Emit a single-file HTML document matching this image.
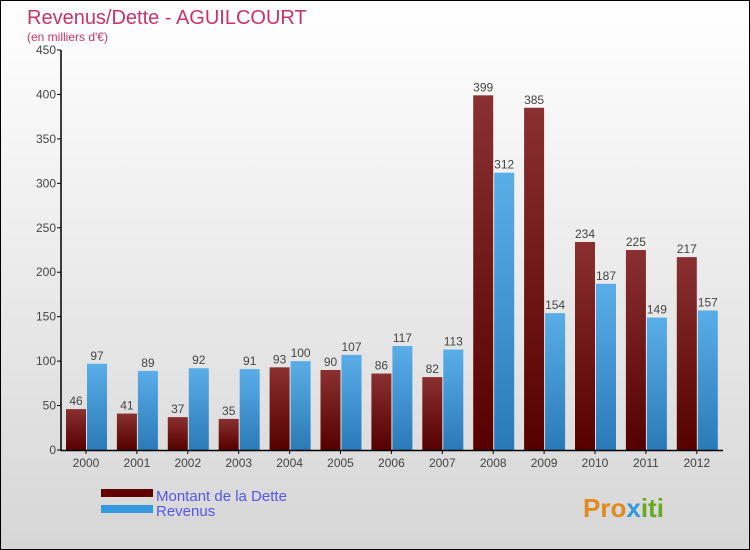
<!DOCTYPE html>
<html><head><meta charset="utf-8"><style>
body{margin:0}
#c{width:748px;height:548px;border:1px solid #000;position:relative;overflow:hidden;background:linear-gradient(#ffffff,#d6d6d6);font-family:"Liberation Sans",sans-serif}
text{font-family:"Liberation Sans",sans-serif}
</style></head><body>
<div id="c">
<svg width="748" height="548" id="s">
<defs>
<linearGradient id="gd" x1="0" y1="0" x2="0" y2="1"><stop offset="0" stop-color="#8a3030"/><stop offset="1" stop-color="#560000"/></linearGradient>
<linearGradient id="gr" x1="0" y1="0" x2="0" y2="1"><stop offset="0" stop-color="#5aaee8"/><stop offset="1" stop-color="#2a7ab8"/></linearGradient>
</defs>
<text x="26" y="23" font-size="20" fill="#c8336a">Revenus/Dette - AGUILCOURT</text>
<text x="26" y="40" font-size="12" fill="#c8336a">(en milliers d'€)</text>
<g id="g"></g>
<rect x="100" y="488" width="52" height="8" fill="#600000"/>
<rect x="100" y="504" width="52" height="8" fill="#3399dd"/>
<text x="155" y="500" font-size="15" fill="#5555ee">Montant de la Dette</text>
<text x="155" y="515" font-size="15" fill="#5555ee">Revenus</text>
<text x="582" y="516" font-size="26" font-weight="bold" fill="#e08a20">Pro<tspan fill="#3399dd">x</tspan><tspan fill="#66aa22">iti</tspan></text>
</svg>
</div>
<script>
const years=["2000","2001","2002","2003","2004","2005","2006","2007","2008","2009","2010","2011","2012"];
const dette=[46,41,37,35,93,90,86,82,399,385,234,225,217];
const revenus=[97,89,92,91,100,107,117,113,312,154,187,149,157];
const ticks=[0,50,100,150,200,250,300,350,400,450];
const NS="http://www.w3.org/2000/svg";
const g=document.getElementById('g');
const y=v=>449-v*400/450;
const x=i=>85+i*50.9;
function mk(t,a){const e=document.createElementNS(NS,t);for(const k in a)e.setAttribute(k,a[k]);g.appendChild(e);return e;}
ticks.forEach(t=>{
 const l=mk('line',{x1:56,x2:60,y1:y(t),y2:y(t),stroke:'#000'});
 
 
 const tx=mk('text',{x:55,y:y(t)+4,'font-size':12,fill:'#444','text-anchor':'end'});tx.textContent=t;
 
 
});
years.forEach((yr,i)=>{
 const b1=mk('rect',{x:x(i)-20,y:y(dette[i]),width:20,height:449-y(dette[i]),fill:'url(#gd)'});
 
 
 const b2=mk('rect',{x:x(i)+1,y:y(revenus[i]),width:20,height:449-y(revenus[i]),fill:'url(#gr)'});
 
 
 const t1=mk('text',{x:x(i)-10,y:y(dette[i])-4,'font-size':12,fill:'#444','text-anchor':'middle'});t1.textContent=dette[i];
 
 
 const t2=mk('text',{x:x(i)+11,y:y(revenus[i])-4,'font-size':12,fill:'#444','text-anchor':'middle'});t2.textContent=revenus[i];
 
 
 const tk=mk('line',{x1:x(i),x2:x(i),y1:449,y2:453,stroke:'#000'});
 
 
 const xl=mk('text',{x:x(i),y:466,'font-size':12,fill:'#444','text-anchor':'middle'});xl.textContent=yr;
 
 
});
const ya=mk('line',{x1:60,x2:60,y1:y(450),y2:450,stroke:'#000','stroke-width':1.5});


const xa=mk('line',{x1:60,x2:722,y1:449.5,y2:449.5,stroke:'#000','stroke-width':1.5});


</script>
</body></html>
